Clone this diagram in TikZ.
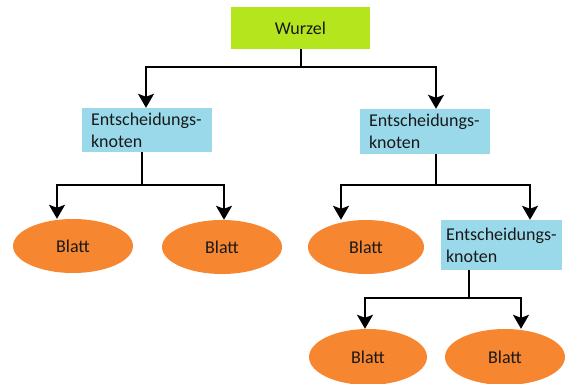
\documentclass[tikz,border=0pt]{standalone}
\usepackage{fontspec}
\setmainfont{Carlito}
\usetikzlibrary{shapes.geometric,arrows.meta}
\definecolor{lime}{RGB}{181,230,29}
\definecolor{skyb}{RGB}{153,217,234}
\definecolor{orng}{RGB}{247,134,48}
\begin{document}
\begin{tikzpicture}[x=1pt,y=-1pt,
  every node/.style={font=\fontsize{18}{22}\selectfont,text=black!90},
  rootbox/.style={fill=lime,minimum width=139pt,minimum height=42pt,inner sep=0pt},
  decbox/.style={fill=skyb,inner sep=0pt,align=left,text width=112pt},
  leaf/.style={ellipse,fill=orng,inner sep=0pt},
  arr/.style={draw=black,line width=2pt,-{Stealth[length=14pt,width=16pt,inset=3pt]}}]
\useasboundingbox (0,0) rectangle (565,383);
\node[rootbox] (w) at (300.5,28) {Wurzel};
\node[decbox,minimum width=130pt,minimum height=44pt] (e1) at (147,130) {Entscheidungs-\\knoten};
\node[decbox,minimum width=130pt,minimum height=45pt] (e2) at (425,131.5) {Entscheidungs-\\knoten};
\node[decbox,minimum width=121pt,minimum height=50pt,text width=111pt] (e3) at (501.5,245) {Entscheidungs-\\knoten};
\node[leaf,minimum width=120pt,minimum height=54pt] (l1) at (73,246) {Blatt};
\node[leaf,minimum width=120pt,minimum height=54pt] (l2) at (222,247) {Blatt};
\node[leaf,minimum width=116pt,minimum height=54pt] (l3) at (366,247) {Blatt};
\node[leaf,minimum width=118pt,minimum height=56pt] (l4) at (368,357) {Blatt};
\node[leaf,minimum width=120pt,minimum height=56pt] (l5) at (505,357) {Blatt};
% root
\draw[arr] (w.south) -- ++(0,18) -| ([xshift=-1pt]e1.north);
\draw[arr] (w.south) -- ++(0,18) -| ([xshift=11pt]e2.north);
% left decision
\draw[arr] ([xshift=-5pt]e1.south) -- ++(0,33) -| ([xshift=-16pt]l1.north);
\draw[arr] ([xshift=-5pt]e1.south) -- ++(0,33) -| ([xshift=2pt]l2.north);
% right decision
\draw[arr] ([xshift=11pt]e2.south) -- ++(0,31) -| ([xshift=-25pt]l3.north);
\draw[arr] ([xshift=11pt]e2.south) -- ++(0,31) -| ([xshift=28.5pt]e3.north);
% lower decision
\draw[arr] ([xshift=-32.5pt]e3.south) -- ++(0,28) -| ([xshift=-3pt]l4.north);
\draw[arr] ([xshift=-32.5pt]e3.south) -- ++(0,28) -| ([xshift=16pt]l5.north);
\end{tikzpicture}
\end{document}
